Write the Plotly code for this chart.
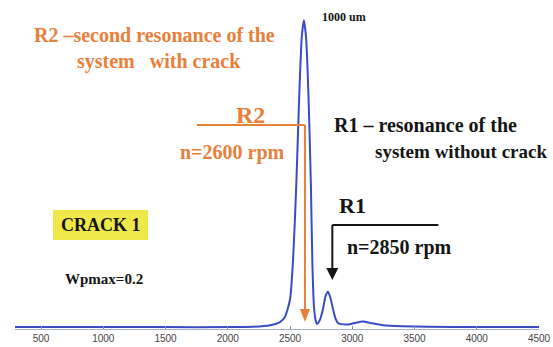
import plotly.graph_objects as go

# ---- data ----
rpm = [291, 600, 1000, 1500, 2000, 2200, 2340, 2420, 2460, 2500, 2525, 2550, 2575,
       2595, 2612, 2630, 2650, 2668, 2680, 2692, 2705, 2718, 2740, 2765, 2785, 2805,
       2825, 2845, 2865, 2885, 2950, 3010, 3086, 3160, 3250, 3400, 3600, 4000, 4500]
amplitude = [2, 2, 2, 2, 2, 3, 8, 18, 35, 90, 220, 450, 750,
             930, 980, 920, 720, 450, 200, 70, 25, 12, 25, 60, 100, 115,
             95, 60, 30, 15, 10, 14, 20, 14, 8, 5, 3, 2, 2]
tick_vals = [500, 1000, 1500, 2000, 2500, 3000, 3500, 4000, 4500]
tick_text = ["500", "1000", "1500", "2000", "2500", "3000", "3500", "4000", "4500"]
r2_rpm = 2620   # arrow position of second resonance (with crack)
r1_rpm = 2840   # arrow position of first resonance (without crack)

W, H = 553, 347
ML, MR, MT, MB = 15, 14, 14, 18
XR = [291, 4500]
YR = [-4, 1000]
PW, PH = W - ML - MR, H - MT - MB

ORANGE = "#e8803a"
BLACK = "#151515"
SERIF = "Liberation Serif"


def px(x):
    return (x - ML) / PW


def py(y):
    return (H - MB - y) / PH


def rpm_per_px():
    return (XR[1] - XR[0]) / PW


fig = go.Figure()
fig.add_trace(go.Scatter(x=rpm, y=amplitude, mode="lines",
                         line=dict(color="#3a4cc4", width=2, shape="spline", smoothing=0.6),
                         hoverinfo="skip", cliponaxis=False))

ann = []


def text(t, x, y, size, color, anchor="left", bg=None):
    d = dict(text="<b>" + t + "</b>", x=px(x), y=py(y), xref="paper", yref="paper", showarrow=False,
             xanchor=anchor, yanchor="middle",
             font=dict(family=SERIF, size=size, color=color))
    if bg:
        d["bgcolor"] = bg
    ann.append(d)


text("R2 \u2013second resonance of the", 32, 35, 20, ORANGE)
text("system \u00a0 with crack", 75, 61, 20, ORANGE)
text("1000 um", 320, 17, 12, BLACK)
text("R2", 250, 115, 24, ORANGE, "center")
text("n=2600 rpm", 178, 152, 20, ORANGE)
text("R1 \u2013 resonance of the", 332, 125, 20, BLACK)
text("system without crack", 373, 151, 19, BLACK)
text("R1", 337, 205, 22, BLACK)
text("n=2850 rpm", 345, 247, 20, BLACK)
text("CRACK 1", 101, 225, 18, BLACK, "center")
text("Wpmax=0.2", 63, 279, 15, BLACK)

shapes = []
# yellow box behind CRACK 1
shapes.append(dict(type="rect", xref="paper", yref="paper", x0=px(53), x1=px(148),
                   y0=py(240), y1=py(210), fillcolor="#efe84a", line=dict(width=0), layer="below"))

# R2 leader
hw = 5 * rpm_per_px()
shapes.append(dict(type="line", xref="paper", yref="paper", x0=px(197),
                   x1=(r2_rpm - XR[0]) / (XR[1] - XR[0]),
                   y0=py(125), y1=py(125), line=dict(color=ORANGE, width=2)))
shapes.append(dict(type="line", xref="x", yref="paper", x0=r2_rpm, x1=r2_rpm,
                   y0=py(125), y1=py(310), line=dict(color=ORANGE, width=2)))
shapes.append(dict(type="path", xref="x", yref="paper",
                   path=f"M{r2_rpm - hw},{py(309)} L{r2_rpm + hw},{py(309)} L{r2_rpm},{py(322)} Z",
                   fillcolor=ORANGE, line=dict(width=0)))

# R1 leader
hw1 = 6 * rpm_per_px()
shapes.append(dict(type="line", xref="x", yref="paper", x0=r1_rpm, x1=r1_rpm + 106 * rpm_per_px(),
                   y0=py(225), y1=py(225), line=dict(color=BLACK, width=2)))
shapes.append(dict(type="line", xref="x", yref="paper", x0=r1_rpm, x1=r1_rpm,
                   y0=py(225), y1=py(269), line=dict(color=BLACK, width=2)))
shapes.append(dict(type="path", xref="x", yref="paper",
                   path=f"M{r1_rpm - hw1},{py(268)} L{r1_rpm + hw1},{py(268)} L{r1_rpm},{py(280)} Z",
                   fillcolor=BLACK, line=dict(width=0)))

fig.update_layout(
    width=W, height=H, margin=dict(l=ML, r=MR, t=MT, b=MB, autoexpand=False),
    paper_bgcolor="white", plot_bgcolor="white", showlegend=False,
    annotations=ann, shapes=shapes,
    xaxis=dict(range=XR, showgrid=False, zeroline=False, showline=True, automargin=False,
               linecolor="#a8b0c8", linewidth=1, ticks="inside", ticklen=3,
               tickcolor="#8890a8", tickvals=tick_vals, ticktext=tick_text,
               tickfont=dict(family="Liberation Sans, Arial, sans-serif", size=10, color="#444444")),
    yaxis=dict(range=YR, visible=False, automargin=False),
)
fig.write_html("out.html")
